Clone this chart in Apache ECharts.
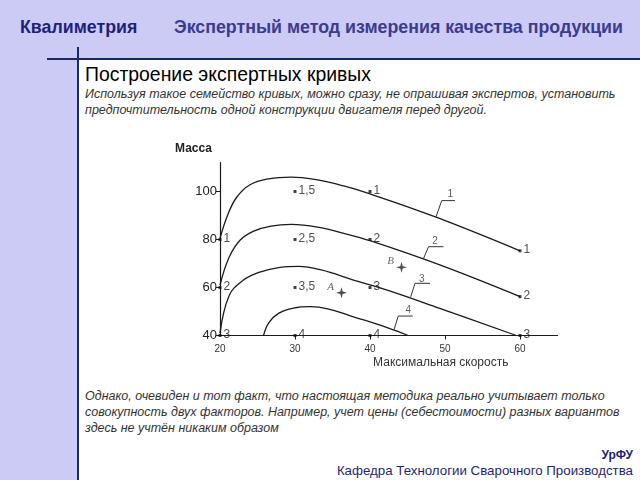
<!DOCTYPE html>
<html><head><meta charset="utf-8">
<script src="https://cdn.jsdelivr.net/npm/echarts@6/dist/echarts.min.js"></script>
<style>
html,body{margin:0;padding:0;width:640px;height:480px;overflow:hidden;background:#cbcbf6;font-family:"Liberation Sans",Arial,sans-serif;}
#white{position:absolute;left:79px;top:60px;right:0;bottom:0;background:#fff;}
#hl{position:absolute;left:47px;top:58px;width:593px;height:2px;background:#1b2a5e;}
#vl{position:absolute;left:77px;top:47px;width:2px;height:433px;background:#1b2a5e;}
.t{position:absolute;white-space:nowrap;line-height:1;}
.it{font-style:italic;font-size:12.5px;color:#333;left:85px;}
#chart{position:absolute;left:0;top:0;width:640px;height:480px;}
</style></head>
<body>
<div id="white"></div><div id="hl"></div><div id="vl"></div>
<div class="t" style="left:20px;top:19px;font-size:17.8px;font-weight:bold;color:#1f1f7a;">Квалиметрия</div>
<div class="t" style="left:174px;top:19px;font-size:17.8px;font-weight:bold;color:#3b3b8f;">Экспертный метод измерения качества продукции</div>
<div class="t" style="left:85px;top:64.5px;font-size:19.4px;color:#000;">Построение экспертных кривых</div>
<div class="t it" style="top:88px;">Используя такое семейство кривых, можно сразу, не опрашивая экспертов, установить</div>
<div class="t it" style="top:104px;">предпочтительность одной конструкции двигателя перед другой.</div>
<div class="t it" style="top:390px;">Однако, очевиден и тот факт, что настоящая методика реально учитывает только</div>
<div class="t it" style="top:406px;">совокупность двух факторов. Например, учет цены (себестоимости) разных вариантов</div>
<div class="t it" style="top:422px;">здесь не учтён никаким образом</div>
<div class="t" style="right:7px;top:449px;font-size:12px;font-weight:bold;color:#1f1f7a;">УрФУ</div>
<div class="t" style="right:7px;top:463.5px;font-size:13.3px;color:#1f1f7a;">Кафедра Технологии Сварочного Производства</div>
<div id="chart"></div>
<script>
// Axis ticks
const xTicks = [20, 30, 40, 50, 60];
const yTicks = [40, 60, 80, 100];

// Expert iso-curves (speed, mass)
const curve1 = [[20,80.5],[21,90],[22.2,97.5],[24,102.8],[26.5,105.3],[29.5,106],[33,104.8],[36.5,102.3],[40,99],[48.9,89.2],[60,75.3]];
const curve2 = [[20,61],[21.2,72.5],[22.7,79.8],[24.5,83.5],[26.8,85.6],[29.5,86.3],[33,85.2],[36.5,82.6],[40,79.5],[49.3,69.4],[60,56.2]];
const curve3 = [[20,41],[21.2,56.5],[23,62.8],[25.3,66.4],[28,68.4],[30.5,68.8],[33.5,67.3],[37.8,63.1],[42.2,59],[49.3,51.3],[59.5,40]];
const curve4 = [[25.8,40],[26.5,45.3],[27.8,49.2],[29.8,51.4],[32,52],[34.5,51],[37.8,47.8],[42.2,43.4],[45.1,40]];

// Rated points: speed, mass, rating label
const ratedPoints = [[30,100,'1,5'],[40,100,'1'],[20,80,'1'],[30,80,'2,5'],[40,80,'2'],[20,60,'2'],[30,60,'3,5'],[40,60,'3'],[20,40,'3'],[30,40,'4'],[40,40,'4'],[60,75.3,'1'],[60,56.2,'2'],[60,40,'3']];

// Designs A and B
const designs = [[36.2,57.8,'A'],[44.2,68.4,'B']];

// Curve-number leaders
const leader1 = [[48.8,89.4],[49.56,96.2],[51.33,96.2]];
const leader2 = [[47.1,71.8],[47.8,77],[49.8,77]];
const leader3 = [[45.43,56.1],[46,61.75],[48,61.75]];
const leader4 = [[43.2,42.4],[43.77,48.1],[45.7,48.1]];
const leaderText = [[50.7,99,'1'],[48.67,79.4,'2'],[46.9,63.5,'3'],[45.1,50.4,'4']];

const ink = '#1a1a1a';
const chart = echarts.init(document.getElementById('chart'), null, {renderer:'canvas'});
const curveSeries = [curve1, curve2, curve3, curve4].map(d => ({
  type:'line', data:d, smooth:0.4, symbol:'none',
  lineStyle:{color:ink, width:1.3}, silent:true
}));
const leaderSeries = [leader1, leader2, leader3, leader4].map(d => ({
  type:'line', data:d, symbol:'none', lineStyle:{color:'#333', width:1}, silent:true
}));
chart.setOption({
  animation:false,
  backgroundColor:'transparent',
  grid:{left:220, right:82.5, top:162.7, bottom:144.5},
  xAxis:{
    type:'value', min:20, max:65,
    name:'Максимальная скорость', nameLocation:'middle', nameGap:21,
    nameTextStyle:{fontSize:12, color:'#333', padding:[0,0,0,104], fontFamily:'Liberation Sans'},
    axisLine:{lineStyle:{color:ink, width:1.2}},
    axisTick:{customValues:[30,40,50,60], length:4, lineStyle:{color:ink}},
    axisLabel:{customValues:xTicks, fontSize:10, color:'#333', margin:9, fontFamily:'Liberation Sans'},
    splitLine:{show:false}
  },
  yAxis:{
    type:'value', min:40, max:112,
    name:'Масса', nameLocation:'end', nameGap:8,
    nameTextStyle:{fontSize:12, fontWeight:'bold', color:'#222', padding:[0,53,0,0], fontFamily:'Liberation Sans'},
    axisLine:{lineStyle:{color:ink, width:1.2}},
    axisTick:{customValues:yTicks, length:4, lineStyle:{color:ink}},
    axisLabel:{customValues:yTicks, fontSize:13, color:'#222', margin:3, padding:[0,0,6,0], fontFamily:'Liberation Sans'},
    splitLine:{show:false}
  },
  series:[
    ...curveSeries,
    ...leaderSeries,
    {type:'scatter', data:leaderText, symbolSize:1, itemStyle:{color:'rgba(0,0,0,0)'},
     label:{show:true, position:'inside', formatter:p=>p.value[2], fontSize:10, color:'#333', fontFamily:'Liberation Sans'}},
    {type:'scatter', data:ratedPoints, symbol:'rect', symbolSize:3, itemStyle:{color:'#111'},
     label:{show:true, position:'right', distance:2, offset:[0,-1], formatter:p=>p.value[2], fontSize:12, color:'#222', fontFamily:'Liberation Sans'}},
    {type:'scatter', data:designs, symbol:'path://M0,-10 L2.2,-2.2 L10,0 L2.2,2.2 L0,10 L-2.2,2.2 L-10,0 L-2.2,-2.2 Z', symbolSize:11,
     itemStyle:{color:'#222'},
     label:{show:true, position:'left', distance:2, offset:[0,-6], formatter:p=>p.value[2], fontSize:11, fontStyle:'italic', color:'#444', fontFamily:'Liberation Serif'}}
  ]
});
</script>
</body></html>
